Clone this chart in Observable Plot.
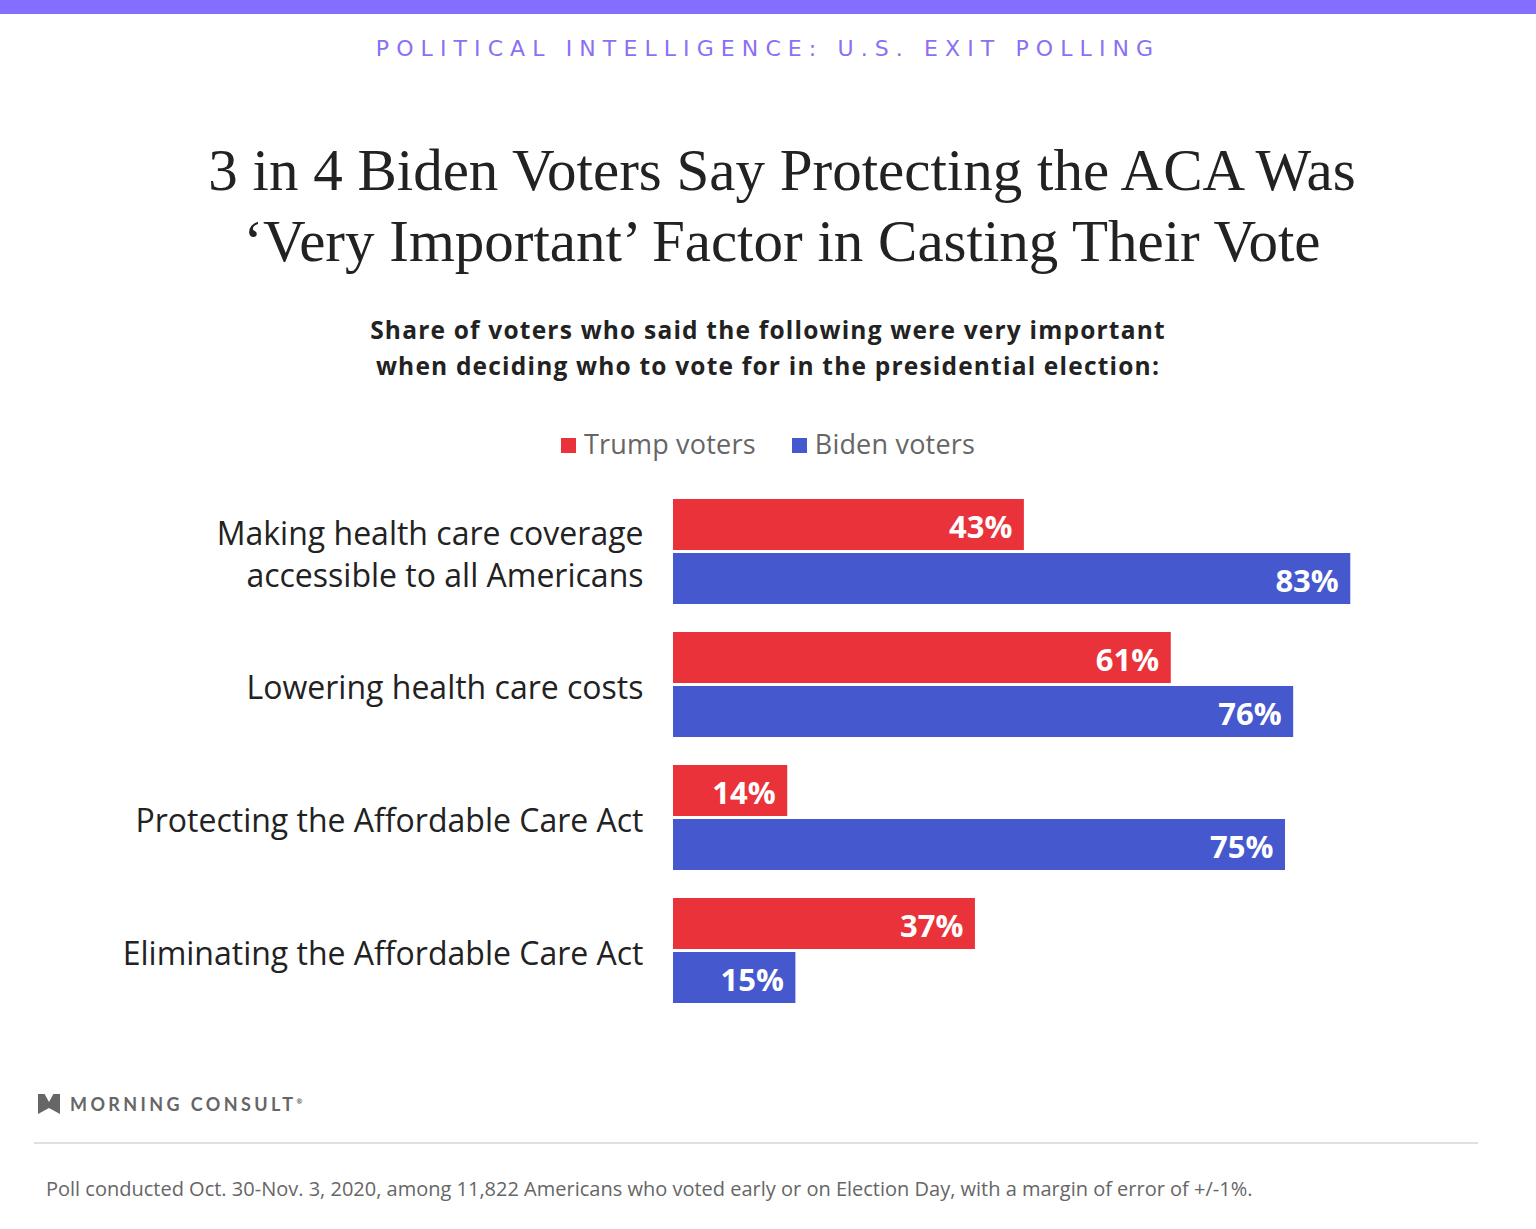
<!DOCTYPE html>
<html>
<head>
<meta charset="utf-8">
<script src="https://cdn.jsdelivr.net/npm/d3@7"></script>
<script src="https://cdn.jsdelivr.net/npm/@observablehq/plot@0.6"></script>
<style>
  html, body { margin: 0; padding: 0; background: #fff; }
  body { width: 1536px; height: 1229px; position: relative; overflow: hidden; font-family: "Open Sans", "Noto Sans", sans-serif; }
  .abs { position: absolute; left: 0; width: 1536px; text-align: center; }
  #band { position: absolute; left: 0; top: 0; width: 1536px; height: 14px; background: #836eff; }
  #kicker { top: 35px; font-size: 22px; letter-spacing: 7.1px; color: #8a70f2; font-family: "DejaVu Sans", sans-serif; font-weight: 400; line-height: 28px; left: 0px; }
  #title { top: 135px; font-family: "Liberation Serif", serif; font-size: 59px; line-height: 71px; color: #222; left: 14px; }
  #subtitle { top: 312px; font-size: 24.5px; font-weight: 700; letter-spacing: 1.2px; line-height: 36px; color: #222; }
  #legend { top: 427px; font-size: 27px; letter-spacing: 0.2px; color: #666; line-height: 34px; }
  #legend span.sw { display: inline-block; width: 15px; height: 15px; margin-right: 8px; vertical-align: 1px; }
  #legend span.item { margin: 0 18px; }
  #chart { position: absolute; left: 0; top: 480px; }
  #logo { position: absolute; left: 38px; top: 1092px; height: 24px; display: flex; align-items: center; }
  #logo .mark { width: 22px; height: 20px; background: #666; clip-path: polygon(0% 0%, 30% 0%, 50% 40%, 70% 0%, 100% 0%, 100% 100%, 50% 70%, 0% 100%); margin-right: 10px; }
  #logo .txt { font-family: Lato, sans-serif; font-size: 18px; font-weight: 700; letter-spacing: 3.4px; color: #666; }
  #rule { position: absolute; left: 34px; top: 1142px; width: 1444px; height: 2px; background: #e0e0e0; }
  #note { position: absolute; left: 46px; top: 1175px; font-size: 20px; color: #666; }
</style>
</head>
<body>
<div id="band"></div>
<div id="kicker" class="abs">POLITICAL INTELLIGENCE: U.S. EXIT POLLING</div>
<div id="title" class="abs">3 in 4 Biden Voters Say Protecting the ACA Was<br>‘Very Important’ Factor in Casting Their Vote</div>
<div id="subtitle" class="abs">Share of voters who said the following were very important<br>when deciding who to vote for in the presidential election:</div>
<div id="legend" class="abs"></div>
<div id="chart"></div>
<div id="logo"><div class="mark"></div><div class="txt">MORNING CONSULT<sup style="font-size:7px">®</sup></div></div>
<div id="rule"></div>
<div id="note">Poll conducted Oct. 30-Nov. 3, 2020, among 11,822 Americans who voted early or on Election Day, with a margin of error of +/-1%.</div>
<script>
const categories = [
  "Making health care coverage\naccessible to all Americans",
  "Lowering health care costs",
  "Protecting the Affordable Care Act",
  "Eliminating the Affordable Care Act"
];
const groups = ["Trump voters", "Biden voters"];
const trump = [43, 61, 14, 37];
const biden = [83, 76, 75, 15];
const colors = ["#e93239", "#4658ce"];

const data = categories.flatMap((c, i) => [
  {category: c, group: groups[0], value: trump[i]},
  {category: c, group: groups[1], value: biden[i]}
]);

document.getElementById("legend").innerHTML = groups.map((g, i) =>
  `<span class="item"><span class="sw" style="background:${colors[i]}"></span>${g}</span>`).join("");

const chart = Plot.plot({
  width: 1536,
  height: 560,
  marginTop: 19,
  marginBottom: 35,
  marginLeft: 673,
  marginRight: 47,
  style: {fontFamily: "'Open Sans', 'Noto Sans', sans-serif", background: "transparent"},
  x: {domain: [0, 100], axis: null},
  fy: {domain: categories, paddingInner: 0.2025, paddingOuter: 0, axis: null},
  y: {domain: groups, paddingInner: 0.0545, paddingOuter: 0, axis: null},
  color: {domain: groups, range: colors},
  marks: [
    Plot.barX(data, {fy: "category", y: "group", x: "value", fill: "group"}),
    Plot.text(data, {fy: "category", y: "group", x: "value", text: d => d.value + "%",
      textAnchor: "end", dx: -12, dy: 3, fill: "white", fontSize: 31, fontWeight: 700}),
    Plot.text(categories, {fy: d => d, frameAnchor: "left", textAnchor: "end", dx: -30,
      text: d => d, fontSize: 32, lineHeight: 1.31, fill: "#222"})
  ]
});
document.getElementById("chart").appendChild(chart);
</script>
</body>
</html>
